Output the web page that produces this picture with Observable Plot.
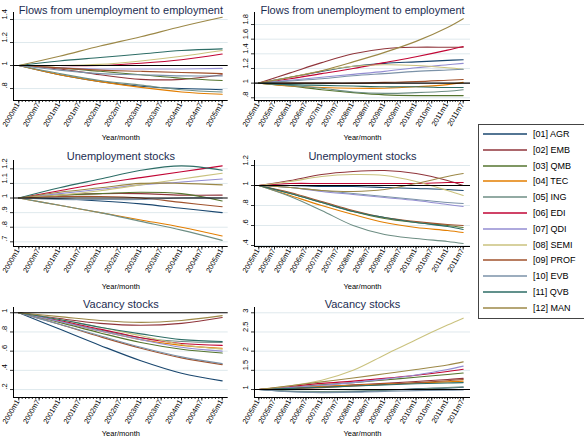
<!DOCTYPE html>
<html><head><meta charset="utf-8">
<script src="https://cdn.jsdelivr.net/npm/d3@7"></script>
<script src="https://cdn.jsdelivr.net/npm/@observablehq/plot@0.6"></script>
<style>
body{margin:0;background:#fff}
#root{position:relative;width:584px;height:438px;overflow:hidden;background:#fff;font-family:Arial,"Liberation Sans",Helvetica,sans-serif}
#root > svg{position:absolute}
#legend{position:absolute;left:478px;top:124px;width:130px;height:195px;border:1px solid #444;box-sizing:border-box;background:#fff}
.li{position:absolute;left:0;height:12px;font-size:9px;line-height:12px;color:#000;white-space:nowrap}
.li svg{position:absolute;left:4px;top:5px}
.li span{position:absolute;left:54px;top:0}
</style>
</head><body><div id="root"><div id="legend"></div></div>
<script>
const sectors = ["[01] AGR","[02] EMB","[03] QMB","[04] TEC","[05] ING","[06] EDI","[07] QDI","[08] SEMI","[09] PROF","[10] EVB","[11] QVB","[12] MAN"];
const palette = ["#1a476f","#90353b","#55752f","#e37e00","#6e8e84","#c10534","#938dd2","#cac27e","#a0522d","#7b92a8","#2d6d66","#9c8847"];

// months since start: left panels start 2000m1, right panels start 2005m1
const leftMonths = [0,12,24,36,48,60];
const rightMonths = [0,12,24,36,48,60,72,78];

const flowsLeft = [
  [1,.92,.86,.82,.80,.79],
  [1,.97,.92,.88,.88,.92],
  [1,.98,.95,.92,.89,.87],
  [1,.92,.86,.81,.77,.75],
  [1,.93,.87,.83,.79,.77],
  [1,1,1,1.02,1.05,1.10],
  [1,.98,.97,.97,.97,.975],
  [1,1,1.01,1.04,1.08,1.13],
  [1,.98,.96,.95,.94,.93],
  [1,.96,.93,.92,.91,.91],
  [1,1.04,1.07,1.10,1.13,1.145],
  [1,1.08,1.17,1.25,1.34,1.42]
];
const flowsRight = [
  [1,1.08,1.16,1.23,1.27,1.29,1.31,1.32],
  [1,1.14,1.28,1.40,1.47,1.49,1.49,1.49],
  [1,.96,.91,.87,.84,.83,.83,.83],
  [1,.96,.94,.93,.93,.95,.98,1.01],
  [1,.97,.93,.88,.86,.87,.89,.91],
  [1,1.06,1.13,1.20,1.28,1.36,1.45,1.50],
  [1,1.04,1.08,1.12,1.16,1.21,1.25,1.27],
  [1,1.08,1.17,1.23,1.25,1.24,1.21,1.19],
  [1,1,1,1,1.01,1.02,1.04,1.05],
  [1,1.03,1.06,1.10,1.13,1.16,1.18,1.19],
  [1,.98,.97,.96,.95,.95,.94,.94],
  [1,1.08,1.17,1.29,1.42,1.57,1.76,1.88]
];
const unempLeft = [
  [1,.995,.98,.96,.93,.90],
  [1,1.02,1.03,1.03,1.02,1.02],
  [1,1.02,1.03,1.04,1.03,.98],
  [1,.95,.90,.85,.80,.74],
  [1,.95,.90,.84,.78,.71],
  [1,1.05,1.10,1.14,1.18,1.22],
  [1,1.03,1.06,1.09,1.11,1.13],
  [1,1.02,1.05,1.09,1.13,1.17],
  [1,1.01,1.01,1,.97,.94],
  [1,.99,.99,.99,1,1],
  [1,1.07,1.13,1.19,1.22,1.19],
  [1,1.04,1.07,1.10,1.10,1.09]
];
const unempRight = [
  [1,1,.99,.99,.98,.97,.96,.95],
  [1,1.05,1.11,1.14,1.15,1.12,1.05,1.0],
  [1,.92,.83,.74,.67,.63,.60,.58],
  [1,.90,.80,.71,.63,.58,.55,.53],
  [1,.89,.75,.60,.51,.47,.44,.42],
  [1,1.02,1.02,1.02,1.02,1.02,1.03,1.03],
  [1,.98,.94,.91,.88,.85,.81,.79],
  [1,1.04,1.09,1.11,1.10,1.04,.95,.90],
  [1,.93,.84,.75,.68,.64,.61,.60],
  [1,.98,.95,.92,.89,.86,.83,.82],
  [1,.92,.83,.74,.68,.63,.59,.56],
  [1,.98,.95,.94,.96,1.02,1.09,1.12]
];
const vacLeft = [
  [1,.83,.66,.50,.37,.29],
  [1,.94,.89,.87,.89,.95],
  [1,.90,.79,.69,.62,.58],
  [1,.91,.81,.72,.66,.63],
  [1,.91,.82,.74,.70,.69],
  [1,.92,.83,.74,.68,.66],
  [1,.91,.81,.72,.64,.60],
  [1,.93,.85,.76,.67,.62],
  [1,.88,.75,.63,.53,.46],
  [1,.88,.76,.64,.54,.47],
  [1,.93,.85,.78,.72,.70],
  [1,.96,.92,.90,.92,.97]
];
const vacRight = [
  [1,.95,.93,.94,.98,1.02,1.04,1.06],
  [1,1.04,1.08,1.12,1.16,1.21,1.26,1.29],
  [1,1.06,1.12,1.18,1.25,1.32,1.39,1.43],
  [1,1.05,1.08,1.11,1.14,1.17,1.20,1.22],
  [1,.96,.95,.96,.98,1.01,1.05,1.07],
  [1,1.08,1.16,1.22,1.29,1.37,1.47,1.53],
  [1,1.05,1.11,1.18,1.27,1.38,1.52,1.61],
  [1,1.10,1.24,1.50,1.90,2.30,2.68,2.86],
  [1,1.02,1.05,1.09,1.13,1.18,1.23,1.26],
  [1,.94,.92,.93,.95,.97,.98,.99],
  [1,1.03,1.06,1.09,1.12,1.15,1.17,1.18],
  [1,1.10,1.20,1.30,1.41,1.52,1.64,1.72]
];

const titles = ["Flows from unemployment to employment","Unemployment stocks","Vacancy stocks"];
const xLabel = "Year/month";
const yTicksFlowsLeft = [0.8,1,1.2,1.4];
const yTicksFlowsRight = [0.8,1,1.2,1.4,1.6,1.8];
const yTicksUnempLeft = [0.7,0.8,0.9,1,1.1,1.2];
const yTicksUnempRight = [0.4,0.6,0.8,1,1.2];
const yTicksVacLeft = [0.2,0.4,0.6,0.8,1];
const yTicksVacRight = [1,1.5,2,2.5,3];

const FONT = 'Arial, "Liberation Sans", Helvetica, sans-serif';
const yFmt = d => { const s = String(+d.toFixed(2)); return s.startsWith("0.") ? s.slice(1) : s; };
const monthLabel = (startYear, m) => `${startYear + Math.floor(m / 12)}m${(m % 12) + 1}`;

function panel(o) {
  const data = o.series.flatMap((vals, i) => vals.map((v, j) => ({sector: sectors[i], m: o.months[j], v})));
  const last = o.months[o.months.length - 1];
  const major = d3.range(0, last + 1, 6);
  const minor = d3.range(0, last + 1, 1);
  const svg = Plot.plot({
    width: 240, height: o.height,
    marginTop: o.mt, marginBottom: o.mb, marginLeft: o.ml, marginRight: o.mr,
    style: {fontFamily: FONT, background: "white", color: "black"},
    x: {domain: o.xDomain},
    y: {domain: o.yDomain},
    color: {domain: sectors, range: palette},
    marks: [
      Plot.ruleY(o.yTicks.filter(t => t !== 1), {stroke: "#dbe7eb", strokeWidth: 0.9}),
      Plot.line(data, {x: "m", y: "v", z: "sector", stroke: "sector", strokeWidth: 1.1, curve: "catmull-rom"}),
      Plot.ruleY([1], {stroke: "black", strokeWidth: 1.1}),
      Plot.ruleX([o.xDomain[0]], {stroke: "black", strokeWidth: 1}),
      Plot.ruleY([o.yDomain[0]], {stroke: "black", strokeWidth: 1}),
      Plot.axisX({ticks: minor, tickSize: 2, tickFormat: () => "", label: null, strokeWidth: 0.8}),
      Plot.axisX({ticks: major, tickSize: 3.5, tickFormat: () => "", label: null, strokeWidth: 0.8}),
      Plot.axisY({ticks: o.yTicks, tickSize: 3, tickFormat: () => "", label: null, strokeWidth: 0.8}),
      Plot.text(major, {x: d => d, text: d => monthLabel(o.startYear, d), frameAnchor: "bottom", dx: 1, dy: 4, rotate: -60, textAnchor: "end", fontSize: 7.3, fill: "black"}),
      Plot.text(o.yTicks, {y: d => d, text: yFmt, frameAnchor: "left", dx: -9, rotate: -90, fontSize: 7.5, fill: "black"}),
      Plot.text([o.title], {text: d => d, frameAnchor: "top", dy: o.titleDy, fontSize: 11, fill: "#1c2d52"}),
      Plot.text([xLabel], {text: d => d, frameAnchor: "bottom", dy: o.xlabDy, fontSize: 7.5, fill: "black"})
    ]
  });
  svg.style.left = o.left + "px";
  svg.style.top = o.top + "px";
  document.getElementById("root").appendChild(svg);
}

const rows = [
  {top: 0, height: 146, mt: 12, mb: 46, titleDy: -6.5, xlabDy: 39, title: titles[0]},
  {top: 146, height: 148, mt: 14, mb: 48, titleDy: -8, xlabDy: 42, title: titles[1]},
  {top: 294, height: 144, mt: 13, mb: 41, titleDy: -7, xlabDy: 38, title: titles[2]}
];
const leftCol = {left: 0, ml: 13, mr: 12.3, xDomain: [-1.56, 61.77], months: leftMonths, startYear: 2000};
const rightCol = {left: 240, ml: 14, mr: 10, xDomain: [-1.64, 80.79], months: rightMonths, startYear: 2005};

panel({...rows[0], ...leftCol, series: flowsLeft, yDomain: [0.696, 1.461], yTicks: yTicksFlowsLeft});
panel({...rows[0], ...rightCol, series: flowsRight, yDomain: [0.763, 1.964], yTicks: yTicksFlowsRight});
panel({...rows[1], ...leftCol, series: unempLeft, yDomain: [0.668, 1.257], yTicks: yTicksUnempLeft});
panel({...rows[1], ...rightCol, series: unempRight, yDomain: [0.39, 1.25], yTicks: yTicksUnempRight});
panel({...rows[2], ...leftCol, series: vacLeft, yDomain: [0.117, 1.055], yTicks: yTicksVacLeft});
panel({...rows[2], ...rightCol, series: vacRight, yDomain: [0.792, 3.138], yTicks: yTicksVacRight});

// legend
const legend = document.getElementById("legend");
sectors.forEach((s, i) => {
  const div = document.createElement("div");
  div.className = "li";
  div.style.top = (3 + i * 15.8) + "px";
  div.innerHTML = `<svg width="46" height="2"><line x1="0" y1="1" x2="44" y2="1" stroke="${palette[i]}" stroke-width="1.3"/></svg><span>${s}</span>`;
  legend.appendChild(div);
});
document.getElementById("root").appendChild(legend);
</script>
</body></html>
